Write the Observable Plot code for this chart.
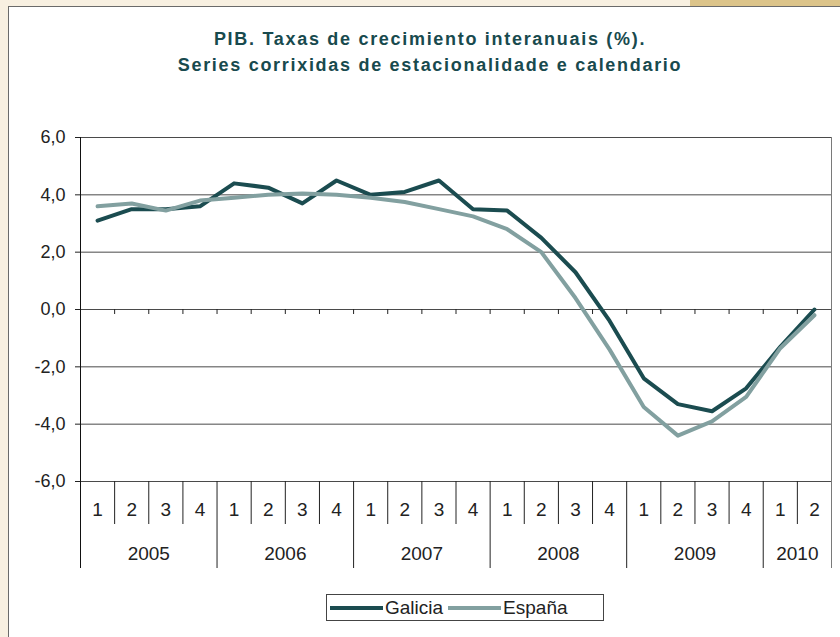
<!DOCTYPE html>
<html>
<head>
<meta charset="utf-8">
<script src="https://cdn.jsdelivr.net/npm/d3@7"></script>
<script src="https://cdn.jsdelivr.net/npm/@observablehq/plot@0.6"></script>
<style>
  html, body { margin: 0; padding: 0; background: #f8f0e1; }
  #wrap { position: relative; width: 840px; height: 637px; overflow: hidden; background: #f8f0e1; }
  #band { position: absolute; left: 690px; top: 0; width: 150px; height: 7px; background: #dcc48a; }
  #panel { position: absolute; left: 8px; top: 6px; width: 860px; height: 660px; background: #fff; border: 1px solid #6a6a6a; }
  #title { position: absolute; left: 8px; top: 26px; width: 844px; text-align: center;
           font: bold 18px "Liberation Sans", Arial, sans-serif; line-height: 26px; color: #184a4e; letter-spacing: 1.7px; }
  #chart { position: absolute; left: 0; top: 120px; }
  #legend { position: absolute; left: 326px; top: 594px; width: 278px; height: 27px; box-sizing: border-box;
            border: 1px solid #444; background: #fff; display: flex; align-items: center; padding-left: 3px;
            font: 19px "Liberation Sans", Arial, sans-serif; color: #222; }
  .sw { display: inline-block; width: 53px; height: 4px; margin-right: 2px; }
  .lab { margin-right: 5px; }
</style>
</head>
<body>
<div id="wrap">
  <div id="band"></div>
  <div id="panel"></div>
  <div id="title">PIB. Taxas de crecimiento interanuais (%).<br>Series corrixidas de estacionalidade e calendario</div>
  <div id="chart"></div>
  <div id="legend"></div>
</div>
<script>
const quarters = ["1","2","3","4","1","2","3","4","1","2","3","4","1","2","3","4","1","2","3","4","1","2"];
const years = ["2005","2006","2007","2008","2009","2010"];
const quartersPerYear = [4, 4, 4, 4, 4, 2];
const galicia = [3.1, 3.5, 3.5, 3.6, 4.4, 4.25, 3.7, 4.5, 4.0, 4.1, 4.5, 3.5, 3.45, 2.5, 1.3, -0.4, -2.4, -3.3, -3.55, -2.75, -1.3, 0.0];
const espana  = [3.6, 3.7, 3.45, 3.8, 3.9, 4.0, 4.05, 4.0, 3.9, 3.75, 3.5, 3.25, 2.8, 2.0, 0.4, -1.4, -3.4, -4.4, -3.9, -3.05, -1.35, -0.2];
const yTicks = [-6, -4, -2, 0, 2, 4, 6];
const seriesNames = ["Galicia", "España"];
const seriesColors = ["#1b4c50", "#82a0a0"];

const n = quarters.length;
const rowsG = galicia.map((v, i) => ({pos: i + 0.5, value: v}));
const rowsE = espana.map((v, i) => ({pos: i + 0.5, value: v}));
const qRows = quarters.map((q, i) => ({pos: i + 0.5, q}));
const yearStarts = [];
let acc = 0;
for (const k of quartersPerYear) { yearStarts.push(acc); acc += k; }
const yRows = years.map((y, j) => ({pos: yearStarts[j] + quartersPerYear[j] / 2, y}));
const yearBounds = [...yearStarts.filter(s => s > 0)];
const innerBounds = d3.range(1, n).filter(b => !yearStarts.includes(b));
const yMin = d3.min(yTicks), yMax = d3.max(yTicks);

const chart = Plot.plot({
  width: 840,
  height: 460,
  marginLeft: 80,
  marginRight: 9,
  marginTop: 17,
  marginBottom: 99,
  style: {fontFamily: "'Liberation Sans', Arial, sans-serif", fontSize: "18px", color: "#222", background: "transparent"},
  x: {domain: [0, n], axis: null},
  y: {domain: [yMin, yMax], ticks: yTicks, tickSize: 5, tickPadding: 10,
      tickFormat: d => d.toFixed(1).replace(".", ","), label: null},
  marks: [
    Plot.ruleY(yTicks, {stroke: "#4a4a4a"}),
    Plot.ruleX([n], {y1: yMax, y2: yMin, insetBottom: -87, stroke: "#7a7a7a"}),
    Plot.ruleX(d3.range(1, n), {y1: 0, y2: 0, insetBottom: -5, stroke: "#222"}),
    Plot.ruleX(innerBounds, {y1: yMin, y2: yMin, insetBottom: -43, stroke: "#222"}),
    Plot.ruleX(yearBounds, {y1: yMin, y2: yMin, insetBottom: -87, stroke: "#222"}),
    Plot.ruleX([0], {y1: yMax, y2: yMin, insetBottom: -87, stroke: "#111"}),
    Plot.text(qRows, {x: "pos", y: () => yMin, text: "q", dy: 28, fontSize: 19, fill: "#222"}),
    Plot.text(yRows, {x: "pos", y: () => yMin, text: "y", dy: 72, fontSize: 19, fill: "#222"}),
    Plot.line(rowsG, {x: "pos", y: "value", stroke: seriesColors[0], strokeWidth: 4, strokeLinejoin: "round", strokeLinecap: "round"}),
    Plot.line(rowsE, {x: "pos", y: "value", stroke: seriesColors[1], strokeWidth: 4, strokeLinejoin: "round", strokeLinecap: "round"})
  ]
});
document.getElementById("chart").appendChild(chart);

const leg = document.getElementById("legend");
seriesNames.forEach((name, i) => {
  const sw = document.createElement("span");
  sw.className = "sw";
  sw.style.background = seriesColors[i];
  const lab = document.createElement("span");
  lab.className = "lab";
  lab.textContent = name;
  leg.appendChild(sw);
  leg.appendChild(lab);
});
</script>
</body>
</html>
